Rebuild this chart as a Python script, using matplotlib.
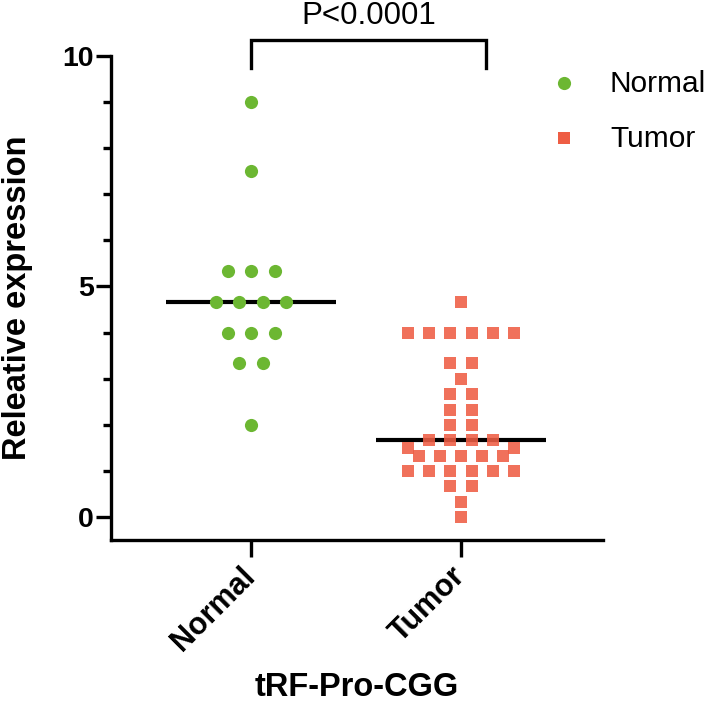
import numpy as np
import matplotlib
matplotlib.use("Agg")
import matplotlib.pyplot as plt
from matplotlib.ticker import MultipleLocator

plt.rcParams['font.family'] = ['Liberation Sans', 'DejaVu Sans']

# data
groups = ["Normal", "Tumor"]
normal = [9.0, 7.5, 5.33, 5.33, 5.33, 4.67, 4.67, 4.67, 4.67,
          4.0, 4.0, 4.0, 3.33, 3.33, 2.0]
tumor = [4.67, 4.0, 4.0, 4.0, 4.0, 4.0, 4.0, 3.33, 3.33, 3.0,
         2.67, 2.67, 2.33, 2.33, 2.0, 2.0, 1.67, 1.67, 1.67, 1.67,
         1.5, 1.5, 1.33, 1.33, 1.33, 1.33, 1.33,
         1.0, 1.0, 1.0, 1.0, 1.0, 1.0, 0.67, 0.67, 0.33, 0.0]
y_ticks = [0, 5, 10]
y_label = "Releative expression"
x_label = "tRF-Pro-CGG"
p_text = "P<0.0001"

colors = ["#6CB732", "#EE5D44"]
markers = ["o", "s"]
W, H = 709, 706

fig = plt.figure(figsize=(W / 100, H / 100), dpi=100)
# axes box in pixels: x 111..603, y 56..540
ax = fig.add_axes([111 / W, (H - 540) / H, 492 / W, 484 / H])
ax.set_xlim(-0.667, 1.676)
ax.set_ylim(-0.5, 10)


def swarm(values, x0, step, min_px):
    # simple row-wise beeswarm, checked in pixel space
    vals = np.asarray(values, dtype=float)
    xs = np.zeros(len(vals))
    placed = []
    for v in sorted(set(vals), reverse=True):
        idx = np.where(vals == v)[0]
        half = 0.5 if len(idx) % 2 == 0 else 0.0
        slots = sorted([k + half for k in range(-12, 13)], key=lambda s: (abs(s), s))
        for i in idx:
            for s in slots:
                x = x0 + s * step
                p = ax.transData.transform((x, v))
                if all(np.hypot(*(p - q)) >= min_px for q in placed):
                    break
            xs[i] = x
            placed.append(p)
    return xs


steps = [0.112, 0.101]
sizes = [90, 85]
alphas = [1.0, 0.88]
for i, (name, vals) in enumerate(zip(groups, [normal, tumor])):
    xs = swarm(vals, i, steps[i], 12.6)
    ax.scatter(xs, vals, s=sizes[i], marker=markers[i], color=colors[i],
               alpha=alphas[i], linewidths=0, zorder=3)
    med = np.median(vals)
    ax.hlines(med, i - 0.405, i + 0.405, color="black", lw=3, zorder=2)

# axes styling
for side in ["top", "right"]:
    ax.spines[side].set_visible(False)
for side in ["left", "bottom"]:
    ax.spines[side].set_linewidth(2.4)
ax.set_yticks(y_ticks)
ax.yaxis.set_minor_locator(MultipleLocator(1))
ax.tick_params(axis="y", which="major", length=10.5, width=2.4, pad=2,
               labelsize=20.5)
ax.tick_params(axis="y", which="minor", length=6, width=2.4)
ax.set_xticks([0, 1])
ax.set_xticklabels(groups, rotation=45, ha="right", va="center",
                   rotation_mode="anchor", fontsize=22, fontweight="bold")
ax.tick_params(axis="x", length=12, width=2.4, pad=11)
for lab in ax.get_yticklabels():
    lab.set_fontweight("bold")

ax.set_ylabel(y_label, fontsize=23.5, fontweight="bold")
ax.yaxis.set_label_coords(-0.158, 0.5)
ax.set_xlabel(x_label, fontsize=23.5, fontweight="bold")
ax.xaxis.set_label_coords(0.5, -0.272)

# significance bracket
bx0, bx1 = 0, 1.12
ax.plot([bx0, bx0, bx1, bx1], [9.74, 10.35, 10.35, 9.74], color="black",
        lw=2.4, clip_on=False, solid_joinstyle="miter")
ax.text((bx0 + bx1) / 2, 10.86, p_text, ha="center", va="center", fontsize=22.5)

# legend drawn by hand on the right
for i, name in enumerate(groups):
    ly = (540 - (83 + 55 * i)) / 484
    ax.scatter([(564 - 111) / 492], [ly], s=sizes[i], marker=markers[i],
               color=colors[i], linewidths=0, transform=ax.transAxes,
               clip_on=False)
    ax.text((610 - 111) / 492, ly - 0.003, name, transform=ax.transAxes,
            ha="left", va="center", fontsize=21.5)

fig.savefig("out.png", dpi=100)
